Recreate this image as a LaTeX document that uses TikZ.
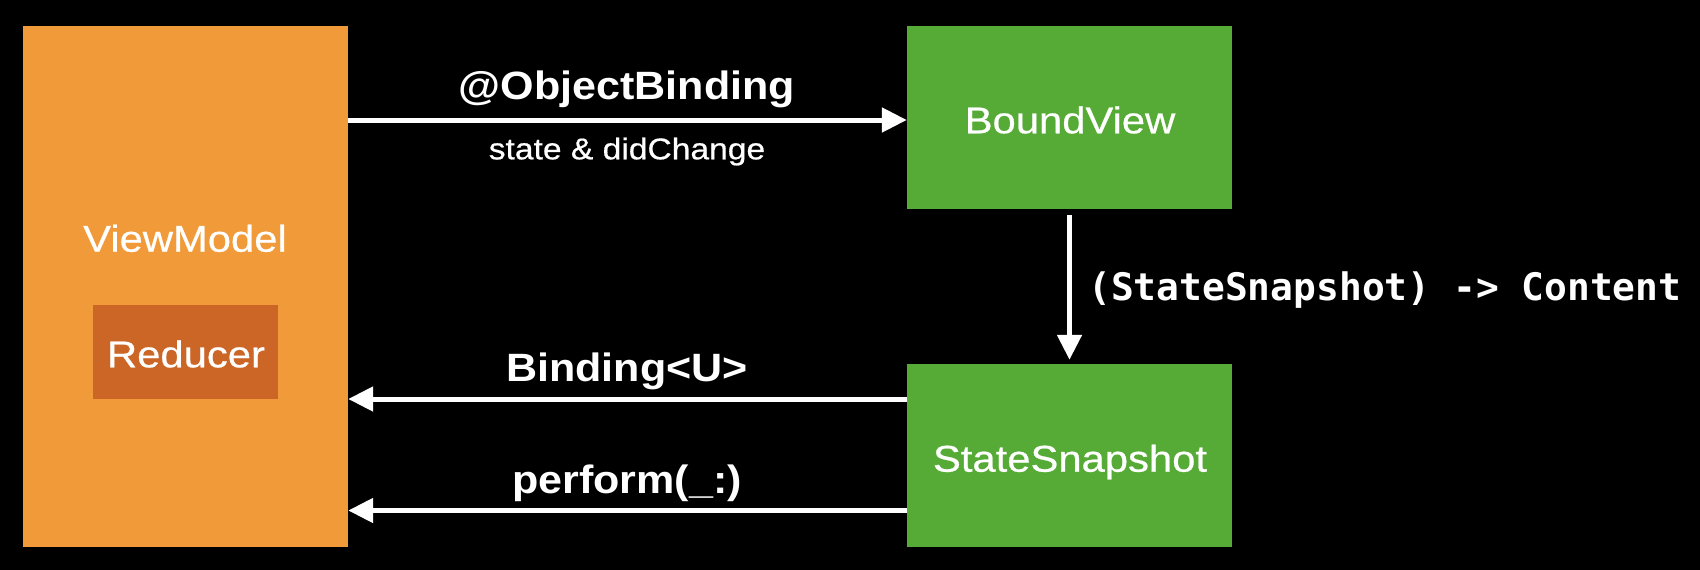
\documentclass[tikz,border=0pt]{standalone}
\usepackage{fontspec}
\usetikzlibrary{arrows.meta}
\newfontfamily\regf{Liberation Sans}[FakeStretch=1.12, FakeBold=0.6]
\newfontfamily\boldf{Liberation Sans}[FakeStretch=1.09]
\newfontfamily\monof{DejaVu Sans Mono}
\definecolor{vmorange}{HTML}{F19A39}
\definecolor{redorange}{HTML}{CB6627}
\definecolor{boxgreen}{HTML}{55AB35}
\tikzset{
  box/.style={fill=#1, draw=none, inner sep=0pt},
  boxlbl/.style={text=white, anchor=base, inner sep=0pt, font=\regf\fontsize{37.3}{40}\selectfont},
  arrlbl/.style={text=white, anchor=base, inner sep=0pt, font=\boldf\bfseries\fontsize{39.5}{42}\selectfont},
  sublbl/.style={text=white, anchor=base, inner sep=0pt, font=\regf\fontsize{30}{32}\selectfont},
  monolbl/.style={text=white, anchor=base west, inner sep=0pt, font=\monof\bfseries\fontsize{37.9}{40}\selectfont},
  arr/.style={draw=white, line width=5pt, -{Triangle[length=25pt,width=24pt]}}
}
\begin{document}
\begin{tikzpicture}[x=1pt,y=-1pt]
\fill[black] (0,0) rectangle (1700,570);
\useasboundingbox (0,0) rectangle (1700,570);
% boxes
\node[box=vmorange, minimum width=325pt, minimum height=521pt] (vm) at (185.5,286.5) {};
\node[box=redorange, minimum width=185pt, minimum height=94pt] (red) at (185.5,352) {};
\node[box=boxgreen, minimum width=325pt, minimum height=183pt] (bv) at (1069.5,117.5) {};
\node[box=boxgreen, minimum width=325pt, minimum height=183pt] (ss) at (1069.5,455.5) {};
% box labels
\node[boxlbl] (vmt) at (185,251.7) {ViewModel};
\node[boxlbl] (redt) at (186,367.3) {Reducer};
\node[boxlbl] (bvt) at (1070,133.3) {BoundView};
\node[boxlbl] (sst) at (1070,471.7) {StateSnapshot};
% arrow rows
\coordinate (r1) at (0,120);
\coordinate (r2) at (0,399);
\coordinate (r3) at (0,510.5);
\draw[arr] (vm.east |- r1) -- (bv.west |- r1);
\draw[arr] (ss.west |- r2) -- (vm.east |- r2);
\draw[arr] (ss.west |- r3) -- (vm.east |- r3);
\draw[arr, shorten <=6pt, shorten >=4pt] (bv.south) -- (ss.north);
% arrow labels
\node[arrlbl] (l1) at (627,99.3) {@ObjectBinding};
\node[sublbl] (l1b) at (627,159.3) {state \& didChange};
\node[arrlbl] (l2) at (627,381.7) {Binding<U>};
\node[arrlbl] (l3) at (627,493.3) {perform(\_:)};
\node[monolbl] (l4) at (1088,300) {(StateSnapshot) -> Content};
\end{tikzpicture}
\end{document}
